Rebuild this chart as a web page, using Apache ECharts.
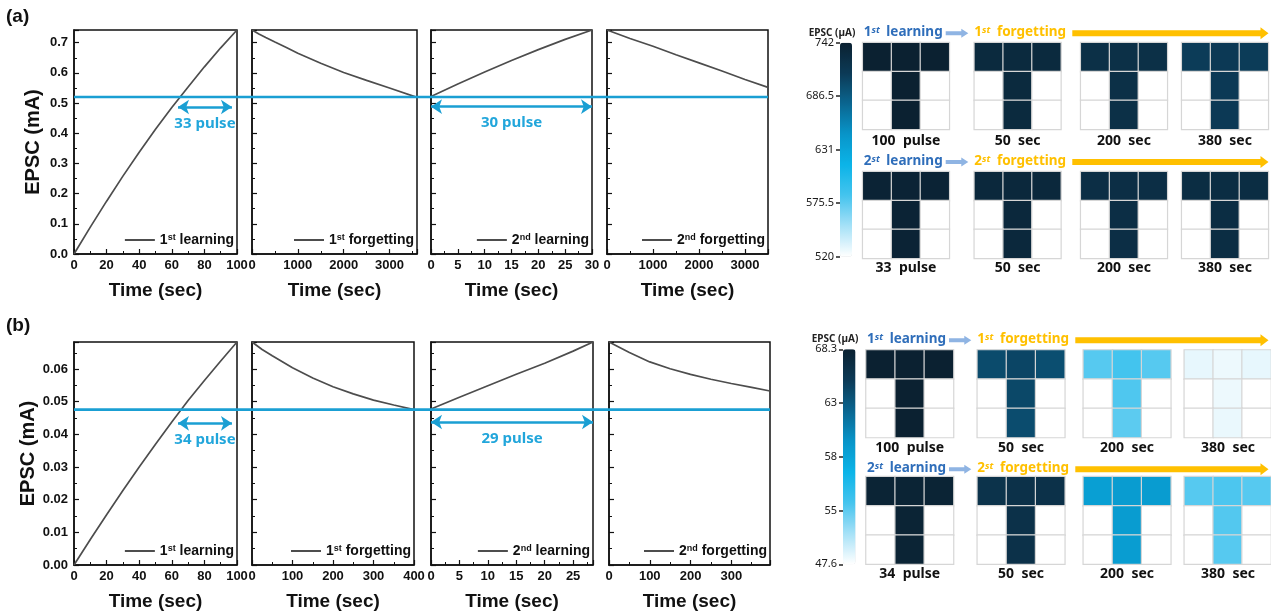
<!DOCTYPE html>
<html>
<head>
<meta charset="utf-8">
<script src="https://cdn.jsdelivr.net/npm/echarts@6/dist/echarts.min.js"></script>
<style>
  html, body { margin: 0; padding: 0; background: #fff; }
  #chart { width: 1271px; height: 616px; }
</style>
</head>
<body>
<div id="chart"></div>
<script>
// ---------- (a) EPSC curves, mA ----------
const learn1A_t = [0, 10, 20, 30, 40, 50, 60, 70, 80, 90, 100];
const learn1A_v = [0, 0.089, 0.175, 0.258, 0.337, 0.413, 0.485, 0.553, 0.620, 0.683, 0.742];
const forget1A_t = [0, 150, 300, 500, 750, 1000, 1500, 2000, 2500, 3000, 3600];
const forget1A_v = [0.742, 0.729, 0.717, 0.702, 0.684, 0.665, 0.632, 0.601, 0.575, 0.550, 0.519];
const learn2A_t = [0, 5, 10, 15, 20, 25, 30];
const learn2A_v = [0.522, 0.563, 0.603, 0.641, 0.677, 0.711, 0.742];
const forget2A_t = [0, 500, 1000, 1500, 2000, 2500, 3000, 3500];
const forget2A_v = [0.742, 0.714, 0.688, 0.660, 0.633, 0.606, 0.578, 0.552];

// ---------- (b) EPSC curves, mA ----------
const learn1B_t = [0, 10, 20, 30, 40, 50, 60, 70, 80, 90, 100];
const learn1B_v = [0, 0.0078, 0.0154, 0.0228, 0.0300, 0.0370, 0.0438, 0.0504, 0.0565, 0.0625, 0.0683];
const forget1B_t = [0, 25, 50, 100, 150, 200, 250, 300, 350, 400];
const forget1B_v = [0.0683, 0.0660, 0.0641, 0.0604, 0.0573, 0.0546, 0.0524, 0.0505, 0.0490, 0.0476];
const learn2B_t = [0, 5, 10, 15, 20, 25, 28.5];
const learn2B_v = [0.0478, 0.0514, 0.0549, 0.0584, 0.0618, 0.0655, 0.0683];
const forget2B_t = [0, 25, 50, 100, 150, 200, 250, 300, 350, 395];
const forget2B_v = [0.0683, 0.0667, 0.0651, 0.0622, 0.0601, 0.0584, 0.0569, 0.0556, 0.0544, 0.0533];

const thresholds = [0.52, 0.0476];          // horizontal reference level, mA
const pulseArrowA = [[63.8, 96.9, 0.487], [0, 30, 0.488]];     // [from, to, level]
const pulseArrowB = [[63.8, 96.9, 0.0434], [0, 28.5, 0.0438]];
const pulseTextA = ['33 pulse', '30 pulse'];
const pulseTextB = ['34 pulse', '29 pulse'];
const curveNames = ['1st learning', '1st forgetting', '2nd learning', '2nd forgetting'];

// ---------- 3x3 pixel maps, EPSC in µA (row-major) ----------
const heatA1 = [
  [742, 742, 742, 520, 742, 520, 520, 742, 520],
  [731, 731, 731, 520, 731, 520, 520, 731, 520],
  [723, 723, 723, 520, 723, 520, 520, 723, 520],
  [709, 711, 709, 520, 711, 520, 520, 711, 520]
];
const heatA2 = [
  [739, 739, 739, 520, 739, 520, 520, 739, 520],
  [733, 733, 733, 520, 733, 520, 520, 733, 520],
  [725, 725, 725, 520, 725, 520, 520, 725, 520],
  [727, 727, 727, 520, 727, 520, 520, 727, 520]
];
const heatB1 = [
  [68.3, 68.3, 68.3, 47.6, 68.3, 47.6, 47.6, 68.3, 47.6],
  [64.2, 64.6, 64.0, 47.6, 64.4, 47.6, 47.6, 64.1, 47.6],
  [53.0, 53.6, 53.0, 47.6, 53.2, 47.6, 47.6, 52.8, 47.6],
  [48.4, 48.2, 48.4, 47.6, 48.2, 47.6, 47.6, 48.3, 47.6]
];
const heatB2 = [
  [68.0, 68.0, 68.0, 47.6, 68.0, 47.6, 47.6, 68.0, 47.6],
  [66.2, 66.4, 66.4, 47.6, 66.4, 47.6, 47.6, 66.4, 47.6],
  [58.5, 58.8, 58.8, 47.6, 58.8, 47.6, 47.6, 58.7, 47.6],
  [53.0, 53.3, 53.0, 47.6, 53.1, 47.6, 47.6, 53.0, 47.6]
];
const heatLabelsA1 = ['100  pulse', '50  sec', '200  sec', '380  sec'];
const heatLabelsA2 = ['33  pulse', '50  sec', '200  sec', '380  sec'];
const heatLabelsB1 = ['100  pulse', '50  sec', '200  sec', '380  sec'];
const heatLabelsB2 = ['34  pulse', '50  sec', '200  sec', '380  sec'];
const cbarRangeA = [520, 742];
const cbarRangeB = [47.6, 68.3];
const cbarTicksA = ['520', '575.5', '631', '686.5', '742'];
const cbarTicksB = ['47.6', '55', '58', '63', '68.3'];

// ---------- styles & layout ----------
const arial = '"Liberation Sans", Arial, sans-serif';
const noto = '"Noto Sans", "Noto Sans CJK KR", sans-serif';
const ink = '#111';
const curveColor = '#4d4d4d';
const cyan = '#1a9fd3';
const cmap = ['#ffffff', '#a6e1f7', '#45c4ee', '#0bb4e8', '#0895c9', '#0a6690', '#0c3a56', '#0b2131'];

const rowTop = [30, 342];
const rowHeight = [224, 223];
const panelLeft = [[74, 252, 431, 607], [74, 252, 431, 609]];
const panelWidth = [[163, 165, 161, 161], [163, 162, 162, 161]];
const rowYMax = [0.742, 0.0683];
const rowYInt = [0.1, 0.01];
const rowYDec = [1, 2];
const xMaxes = [[100, 3600, 30, 3500], [100, 400, 28.5, 395]];
const xInts = [[20, 1000, 5, 1000], [20, 100, 5, 100]];
const curveT = [[learn1A_t, forget1A_t, learn2A_t, forget2A_t], [learn1B_t, forget1B_t, learn2B_t, forget2B_t]];
const curveV = [[learn1A_v, forget1A_v, learn2A_v, forget2A_v], [learn1B_v, forget1B_v, learn2B_v, forget2B_v]];
const pulseArrows = [pulseArrowA, pulseArrowB];
const pulseTexts = [pulseTextA, pulseTextB];

const heatCols = [[862.7, 974.3, 1080.7, 1181.7], [866, 977.3, 1083.3, 1184.3]];
const heatRows = [[42.7, 171.7], [350, 476.7]];
const heatSize = [86.6, 87.5];
const heatLabelY = [[141, 267.7], [448.3, 574]];
const headerY = [[32.3, 161], [339.3, 468.3]];
const cbarBox = [[840, 42.7, 12, 214], [843, 349.3, 12.5, 215]];
const heatSets = [[heatA1, heatA2], [heatB1, heatB2]];
const heatLabels = [[heatLabelsA1, heatLabelsA2], [heatLabelsB1, heatLabelsB2]];

const chart = echarts.init(document.getElementById('chart'));

const grid = [], xAxis = [], yAxis = [], series = [], legend = [], visualMap = [];

function axisLineStyle() {
  return { show: true, onZero: false, lineStyle: { color: ink, width: 1.5 } };
}

// ----- line panels -----
for (let r = 0; r < 2; r++) {
  for (let p = 0; p < 4; p++) {
    const g = grid.length;
    const left = panelLeft[r][p], width = panelWidth[r][p];
    grid.push({ left, top: rowTop[r], width, height: rowHeight[r], show: true,
      borderColor: ink, borderWidth: 1.5, backgroundColor: 'transparent' });
    const xMax = xMaxes[r][p], xInt = xInts[r][p];
    xAxis.push({
      gridIndex: g, type: 'value', min: 0, max: xMax, interval: xInt,
      axisLine: axisLineStyle(),
      axisTick: { inside: true, length: 5, lineStyle: { color: ink, width: 1.2 } },
      minorTick: { show: true, splitNumber: 2, length: 3, lineStyle: { color: ink, width: 1 } },
      splitLine: { show: false },
      axisLabel: { fontFamily: arial, fontWeight: 'bold', fontSize: 13, color: ink, margin: 5,
        showMaxLabel: xMax % xInt === 0, formatter: v => String(v) },
      name: 'Time (sec)', nameLocation: 'middle', nameGap: 27,
      nameTextStyle: { fontFamily: arial, fontWeight: 'bold', fontSize: 19, color: ink }
    });
    const dec = rowYDec[r];
    yAxis.push({
      gridIndex: g, type: 'value', min: 0, max: rowYMax[r], interval: rowYInt[r],
      axisLine: axisLineStyle(),
      axisTick: { inside: true, length: 5, lineStyle: { color: ink, width: 1.2 } },
      minorTick: { show: true, splitNumber: 2, length: 3, lineStyle: { color: ink, width: 1 } },
      splitLine: { show: false },
      axisLabel: { show: p === 0, fontFamily: arial, fontWeight: 'bold', fontSize: 13, color: ink,
        margin: 6, showMaxLabel: false, formatter: v => v.toFixed(dec) },
      name: p === 0 ? 'EPSC (mA)' : '', nameLocation: 'middle', nameGap: 31,
      nameTextStyle: { fontFamily: arial, fontWeight: 'bold', fontSize: 20, color: ink }
    });
    const s = {
      type: 'line', name: curveNames[p], xAxisIndex: g, yAxisIndex: g,
      data: curveT[r][p].map((t, k) => [t, curveV[r][p][k]]),
      showSymbol: false, color: curveColor,
      lineStyle: { color: curveColor, width: 1.7 }, silent: true
    };
    if (p === 0 || p === 2) {
      const a = pulseArrows[r][p / 2];
      s.markLine = {
        silent: true, symbol: ['arrow', 'arrow'], symbolSize: 11,
        lineStyle: { color: cyan, width: 2.6, type: 'solid' },
        label: { show: true, position: 'insideMiddleBottom', distance: 9,
          formatter: pulseTexts[r][p / 2], color: '#22a6db',
          fontFamily: noto, fontWeight: 'bold', fontSize: 15 },
        emphasis: { disabled: true },
        data: [[{ coord: [a[0], a[2]] }, { coord: [a[1], a[2]] }]]
      };
    }
    series.push(s);
    legend.push({
      data: [curveNames[p]], selectedMode: false, padding: 0,
      right: 1271 - (left + width) + 3, top: rowTop[r] + rowHeight[r] - 21,
      icon: 'rect', itemWidth: 30, itemHeight: 2,
      formatter: n => n.replace(/^(\d)(st|nd)/, '$1{s|$2}'),
      textStyle: { fontFamily: arial, fontWeight: 'bold', fontSize: 14, color: ink,
        rich: { s: { fontFamily: arial, fontWeight: 'bold', fontSize: 9, color: ink, verticalAlign: 'top' } } }
    });
  }
}

// ----- pixel maps -----
const heatSeriesIdx = [[], []];
for (let r = 0; r < 2; r++) {
  for (let row = 0; row < 2; row++) {
    for (let c = 0; c < 4; c++) {
      const g = grid.length;
      grid.push({ left: heatCols[r][c], top: heatRows[r][row], width: heatSize[r], height: heatSize[r] });
      xAxis.push({ gridIndex: g, type: 'category', data: ['0', '1', '2'], show: false });
      yAxis.push({ gridIndex: g, type: 'category', data: ['0', '1', '2'], inverse: true, show: false });
      heatSeriesIdx[r].push(series.length);
      series.push({
        type: 'heatmap', xAxisIndex: g, yAxisIndex: g, silent: true,
        data: heatSets[r][row][c].map((v, k) => [k % 3, Math.floor(k / 3), v]),
        itemStyle: { borderColor: '#d6d6d6', borderWidth: 1.2 },
        emphasis: { disabled: true }
      });
    }
  }
}

// ----- colour bars -----
const cbarRanges = [cbarRangeA, cbarRangeB];
const cbarTicks = [cbarTicksA, cbarTicksB];
for (let r = 0; r < 2; r++) {
  const [bx, by, bw, bh] = cbarBox[r];
  visualMap.push({
    type: 'continuous', seriesIndex: heatSeriesIdx[r], min: cbarRanges[r][0], max: cbarRanges[r][1],
    inRange: { color: cmap }, orient: 'vertical', left: bx, top: by, itemWidth: bw, itemHeight: bh,
    padding: 0, calculable: false, hoverLink: false
  });
  const g = grid.length;
  grid.push({ left: bx, top: by, width: bw, height: bh });
  xAxis.push({ gridIndex: g, type: 'value', show: false });
  yAxis.push({
    gridIndex: g, type: 'category', data: cbarTicks[r], boundaryGap: false,
    axisLine: { show: false },
    axisTick: { show: true, length: 4, lineStyle: { color: '#222', width: 1.5 } },
    axisLabel: { fontFamily: noto, fontSize: 11, color: '#1a1a1a', margin: 6 }
  });
}

chart.setOption({
  animation: false,
  grid, xAxis, yAxis, series, legend, visualMap
});

// ----- annotations -----
function arrowPts(x0, x1, y, th, hw, hl) {
  return [[x0, y - th / 2], [x1 - hl, y - th / 2], [x1 - hl, y - hw / 2], [x1, y],
          [x1 - hl, y + hw / 2], [x1 - hl, y + th / 2], [x0, y + th / 2]];
}
const graphic = [];
graphic.push({ type: 'text', x: 6, y: 17, style: { text: '(a)', fontFamily: arial, fontWeight: 'bold',
  fontSize: 19, fill: ink, verticalAlign: 'middle' } });
graphic.push({ type: 'text', x: 6, y: 326, style: { text: '(b)', fontFamily: arial, fontWeight: 'bold',
  fontSize: 19, fill: ink, verticalAlign: 'middle' } });

const headerLearn = [['1{s|st} learning', '2{s|st} learning'], ['1{s|st} learning', '2{s|st} learning']];
const headerForget = [['1{s|st} forgetting', '2{s|st} forgetting'], ['1{s|st} forgetting', '2{s|st} forgetting']];
const headerRich = c => ({ s: { fontFamily: noto, fontStyle: 'italic', fontWeight: 'bold', fontSize: 9.5,
  fill: c, verticalAlign: 'top', padding: [0, 3, 0, 0] } });
for (let r = 0; r < 2; r++) {
  const [bx, by] = cbarBox[r];
  graphic.push({ type: 'text', x: bx - 8, y: by - 10, style: { text: 'EPSC (µA)', fontFamily: noto,
    fontWeight: 'bold', fontSize: 10, fill: '#222', align: 'center', verticalAlign: 'middle' } });
  for (let row = 0; row < 2; row++) {
    const hy = headerY[r][row];
    const x0 = heatCols[r][0];
    graphic.push({ type: 'text', x: x0 + 1, y: hy, style: { text: headerLearn[r][row], fontFamily: noto,
      fontWeight: 'bold', fontSize: 13.5, fill: '#2f6eba', verticalAlign: 'middle', rich: headerRich('#2f6eba') } });
    const lx0 = x0 + 83, lx1 = heatCols[r][1] - 6;
    graphic.push({ type: 'polygon', shape: { points: arrowPts(lx0, lx1, hy + 1, 4, 9, 7) },
      style: { fill: '#8fb4e3' } });
    graphic.push({ type: 'text', x: heatCols[r][1], y: hy, style: { text: headerForget[r][row], fontFamily: noto,
      fontWeight: 'bold', fontSize: 13.5, fill: '#ffc000', verticalAlign: 'middle', rich: headerRich('#ffc000') } });
    graphic.push({ type: 'polygon', shape: { points: arrowPts(heatCols[r][1] + 98, 1268.5, hy + 1, 6, 12, 8) },
      style: { fill: '#ffc000' } });
    for (let c = 0; c < 4; c++) {
      graphic.push({ type: 'text', x: heatCols[r][c] + heatSize[r] / 2, y: heatLabelY[r][row],
        style: { text: heatLabels[r][row][c], fontFamily: noto, fontWeight: 'bold', fontSize: 14,
          fill: '#111', align: 'center', verticalAlign: 'middle' } });
    }
  }
}

// threshold line across the four panels of each row, placed through the axes' own scale
for (let r = 0; r < 2; r++) {
  const g0 = r * 4, g3 = r * 4 + 3;
  const p0 = chart.convertToPixel({ gridIndex: g0 }, [0, thresholds[r]]);
  const p1 = chart.convertToPixel({ gridIndex: g3 }, [xMaxes[r][3], thresholds[r]]);
  graphic.push({ type: 'line', z: 100, shape: { x1: p0[0], y1: p0[1], x2: p1[0], y2: p1[1] },
    style: { stroke: cyan, lineWidth: 2.6 } });
}

chart.setOption({ graphic });
</script>
</body>
</html>
